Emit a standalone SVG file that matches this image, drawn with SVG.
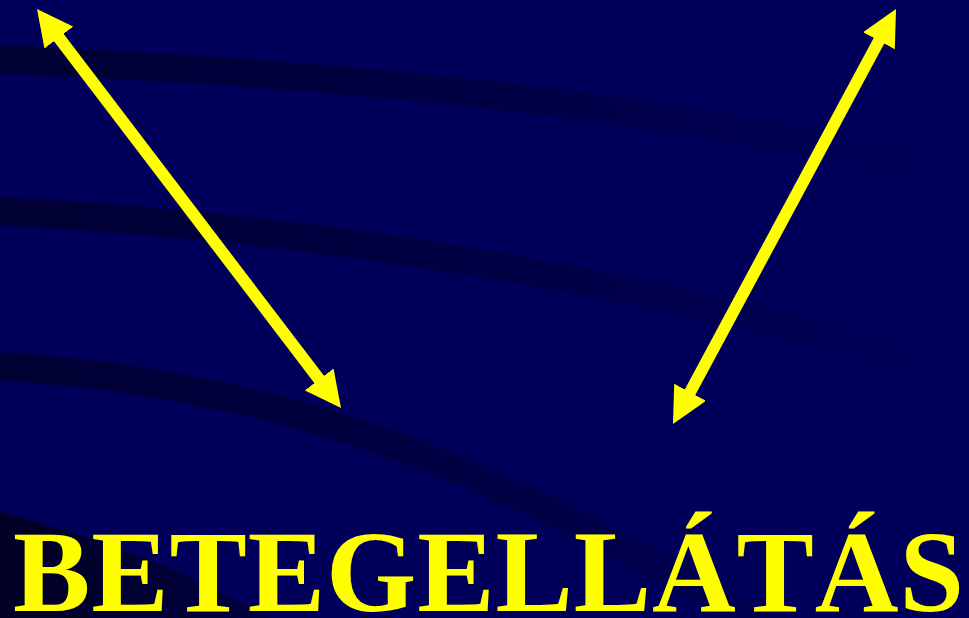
<svg xmlns="http://www.w3.org/2000/svg" width="969" height="618" viewBox="0 0 969 618">
  <defs>
    <linearGradient id="fade" gradientUnits="userSpaceOnUse" x1="0" y1="0" x2="960" y2="0">
      <stop offset="0" stop-color="#000033" stop-opacity="1"/>
      <stop offset="0.55" stop-color="#000033" stop-opacity="0.5"/>
      <stop offset="1" stop-color="#000033" stop-opacity="0"/>
    </linearGradient>
    <linearGradient id="fade4" gradientUnits="userSpaceOnUse" x1="0" y1="0" x2="300" y2="0">
      <stop offset="0" stop-color="#000022" stop-opacity="1"/>
      <stop offset="1" stop-color="#000033" stop-opacity="0.6"/>
    </linearGradient>
    <marker id="head" viewBox="0 -18 36 36" markerUnits="userSpaceOnUse" markerWidth="36" markerHeight="36" refX="2" refY="0" orient="auto-start-reverse">
      <path d="M0,-18 L36,0 L0,18 Z" fill="#FFFF00"/>
    </marker>
    <style>
      .band { fill: none; stroke: url(#fade); stroke-width: 28; }
      .arrow { stroke: #FFFF00; stroke-width: 12; fill: none; marker-start: url(#head); marker-end: url(#head); }
      .title { font-family: "Liberation Serif", "Times New Roman", serif; font-weight: bold; font-size: 116px; fill: #FFFF00; }
    </style>
  </defs>
  <rect width="969" height="618" fill="#00005A"/>
  <g id="background">
    <path class="band" d="M-5,59 C300,72 600,95 920,165"/>
    <path class="band" d="M-5,211 C300,225 650,280 969,375"/>
    <path class="band" d="M-5,366 C220,380 450,430 800,650"/>
    <path d="M0,512 Q150,550 270,618 L0,618 Z" fill="url(#fade4)"/>
  </g>
  <g id="connectors">
    <line class="arrow" x1="57.6" y1="36" x2="320.4" y2="381"/>
    <line class="arrow" x1="879.9" y1="39" x2="689.1" y2="394"/>
  </g>
  <g id="title">
    <text class="title" x="13" y="611" textLength="951" lengthAdjust="spacing">BETEGELLÁTÁS</text>
  </g>
</svg>
